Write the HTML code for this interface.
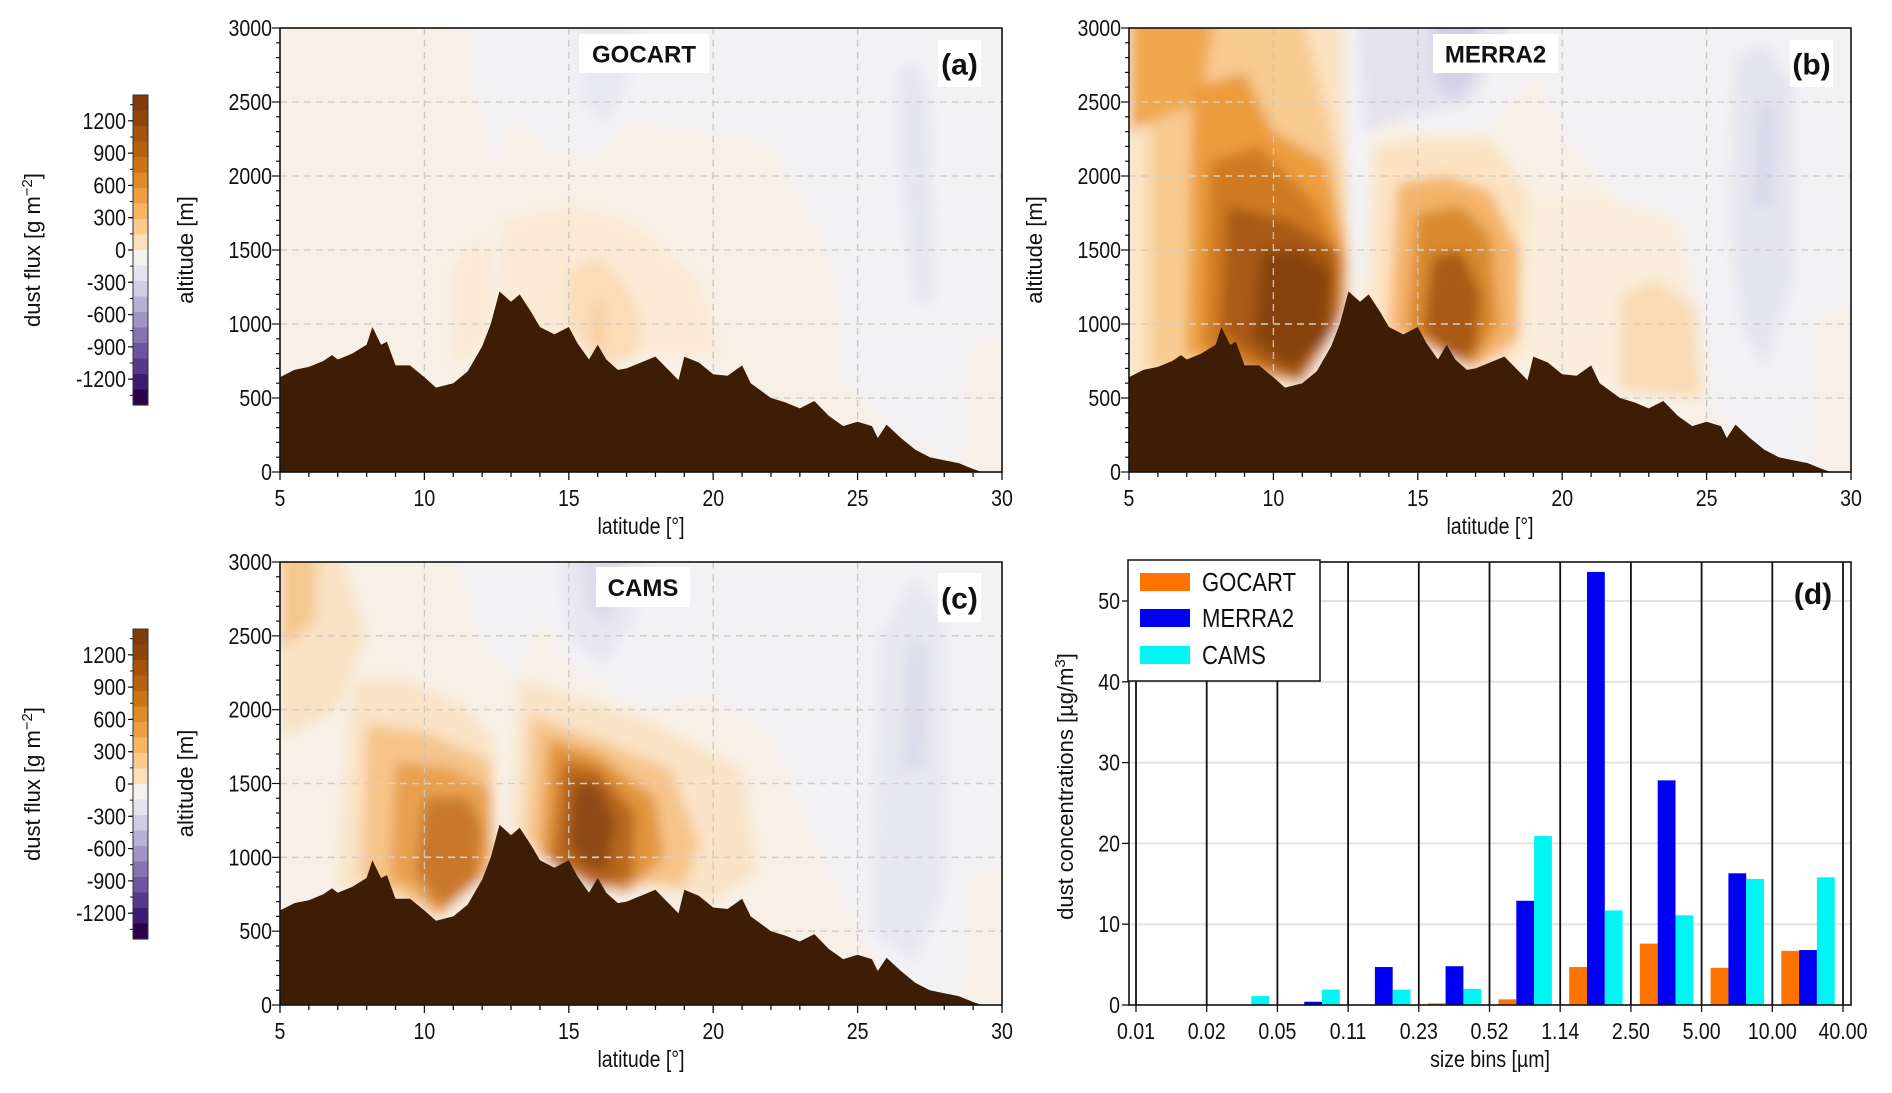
<!DOCTYPE html>
<html><head><meta charset="utf-8">
<style>
html,body{margin:0;padding:0;background:#fff;}
svg{display:block;}
text{font-family:"Liberation Sans",sans-serif;fill:#111;}
.t{font-size:22px;}
.b{font-family:"Liberation Sans",sans-serif;font-weight:bold;}
</style></head>
<body>
<svg id="fig" width="1892" height="1093" viewBox="0 0 1892 1093" xmlns="http://www.w3.org/2000/svg">
<defs>
<filter id="soft" x="-20%" y="-20%" width="140%" height="140%"><feGaussianBlur stdDeviation="6"/></filter>
</defs>
</svg>
<script>
// ---------- data ----------
const terrainLat = [5,5.5,6,6.5,6.8,7,7.5,8,8.2,8.5,8.7,9,9.5,10,10.4,11,11.5,12,12.3,12.6,13,13.3,13.7,14,14.5,15,15.3,15.7,16,16.3,16.7,17,17.5,18,18.5,18.8,19,19.5,20,20.5,21,21.3,22,22.5,23,23.5,24,24.5,25,25.5,25.7,26,26.5,27,27.5,28,28.5,29,29.3,30];
const terrainAlt = [640,690,710,750,790,760,800,860,980,860,880,720,720,640,570,600,680,850,1000,1220,1150,1200,1080,980,930,980,870,760,860,760,690,700,740,780,680,620,780,740,660,650,720,600,500,470,430,480,380,310,340,310,230,320,230,150,100,80,60,20,0,0];

const barBins = ["0.01","0.02","0.05","0.11","0.23","0.52","1.14","2.50","5.00","10.00","40.00"];
const gocartVals = [0,0,0,0,0.2,0.7,4.7,7.6,4.6,6.7];
const merraVals  = [0,0,0.4,4.7,4.8,12.9,53.6,27.8,16.3,6.8];
const camsVals   = [0,1.1,1.9,1.9,2.0,20.9,11.7,11.1,15.6,15.8];
const barYTicks = [0,10,20,30,40,50];
const cbTicks = [1200,900,600,300,0,-300,-600,-900,-1200];
const cbColors = ["#7f3b08","#8e4509","#a3530c","#b8610f","#cc7316","#df8a26","#ec9f42","#f6b665","#fbcb8e","#fde0bb","#f6f2ef","#e4e3ef","#cfcce4","#b8b1d6","#9f94c4","#8674b1","#6d559f","#57388b","#3f1a72","#2d004b"];
const latTicks = [5,10,15,20,25,30];
const altTicks = [0,500,1000,1500,2000,2500,3000];

const blobsA = [
 ["#f8f0e6",[[4,-100],[4,3100],[11.5,3100],[11.8,2500],[12.5,2050],[13,2380],[14.5,2150],[16,2100],[17,2350],[20,2300],[22,2200],[24,1500],[24.5,600],[26,300],[29,0],[29,-100]]],
 ["#f8f0e6",[[28.6,0],[28.7,700],[29.3,900],[30.5,900],[30.5,0]]],
 ["#fae9d4",[[11,700],[11,1400],[11.8,1550],[12.3,1500],[12.3,900]]],
 ["#fae9d4",[[12.6,1000],[12.7,1700],[14,1750],[15,1800],[17,1700],[18,1550],[19.5,1300],[20.2,800],[17,800],[15,900]]],
 ["#fadcb6",[[15,1000],[15,1350],[16,1450],[17,1250],[17.5,1000],[17.3,780],[16,700]]],
 ["#f5c58f",[[15.9,850],[15.9,1150],[16.1,1150],[16.2,850]]],
 ["#e8e8f1",[[15.2,3100],[15.5,2500],[16.2,2350],[17,2600],[17.5,3100]]],
 ["#e6e6f0",[[26.4,2700],[27,2780],[27.5,2500],[27.6,1150],[27,1150],[26.5,2000]]]
];
const blobsB = [
 ["#f8f0e6",[[4,-100],[4,3100],[12.4,3100],[12.6,1300],[13.2,1300],[13.5,2500],[15,2300],[17.5,2300],[19,2700],[20,2300],[22,1800],[25,500],[26,200],[29,-100]]],
 ["#f8f0e6",[[28.6,0],[28.8,1000],[29.5,1100],[30.5,1100],[30.5,0]]],
 ["#fbe3c3",[[5,600],[5,3100],[12.4,3100],[12.6,1200],[11,600]]],
 ["#f8cb92",[[5.7,700],[5.7,3100],[11,3100],[12.4,2000],[12.6,1200],[11,600]]],
 ["#f0a850",[[5,2300],[5,3100],[8,3100],[7.5,2500]]],
 ["#ec9c3e",[[7,800],[7.2,2600],[9,2700],[10,2300],[11.8,2100],[12.5,1500],[12.5,1100],[11,600],[9,700]]],
 ["#cf7a24",[[7.6,850],[7.8,2100],[9.5,2200],[11.5,1800],[12.4,1400],[12.3,1000],[11,600],[9,700]]],
 ["#a85a17",[[8.2,950],[8.4,1800],[10.5,1700],[12.2,1500],[12.2,1000],[10.8,620],[9.5,750]]],
 ["#874310",[[9.3,900],[9.6,1500],[11,1500],[12,1350],[11.8,900],[10.6,700]]],
 ["#fbe3c3",[[13.3,1000],[13.5,2200],[15,2250],[17.5,2250],[18.8,1900],[19.5,1000],[18,700]]],
 ["#f5b46a",[[14,950],[14.3,1950],[16,2000],[17.5,1900],[18.5,1500],[18.5,900],[17,700]]],
 ["#d98a2e",[[14.6,950],[15,1750],[16.5,1800],[17.5,1600],[17.8,1000],[16.8,700]]],
 ["#a85a15",[[15.2,950],[15.5,1450],[16.5,1500],[17.2,1200],[17,800],[16.2,760]]],
 ["#faeddb",[[18.5,700],[18.8,1850],[21,1900],[24,1700],[24.8,1000],[25,500],[21.5,600]]],
 ["#f9dcb5",[[22,550],[22,1200],[23.3,1300],[24.6,1100],[24.8,500]]],
 ["#e3e2ee",[[12.9,3100],[13.2,2300],[14.5,2400],[15.5,2450],[16.8,2500],[18,2900],[18.4,3100]]],
 ["#d2d0e5",[[15.5,3100],[15.6,2650],[16.3,2500],[17,2700],[17.2,3100]]],
 ["#e5e5f0",[[25.8,1700],[26,2800],[27,2900],[28,2600],[28,1300],[27,700],[26.2,1000]]],
 ["#d9d8ea",[[26.6,1800],[26.8,2500],[27.4,2500],[27.3,1800]]]
];
const blobsC = [
 ["#f8f0e6",[[4,-100],[4,3100],[11,3100],[12,2400],[13.2,2200],[14,2600],[15,2300],[17.5,2000],[20,2100],[22,1800],[24,900],[25,500],[26,200],[29,-100]]],
 ["#f8f0e6",[[28.6,0],[28.8,800],[29.5,900],[30.5,900],[30.5,0]]],
 ["#f9e2c4",[[5,1800],[5,3100],[7,3100],[8,2500],[7,2000]]],
 ["#f5c890",[[5,2400],[5,3100],[6.3,3100],[6.2,2600]]],
 ["#fae3c6",[[7,800],[7.5,2200],[9.5,2200],[11.5,2000],[12.4,1800],[12.5,1000],[10.5,570],[9,720]]],
 ["#f6c48a",[[7.8,850],[8,1900],[10,1850],[12.3,1650],[12.4,1000],[10.5,600],[9,750]]],
 ["#e8a050",[[8.8,850],[9,1650],[11,1600],[12.3,1450],[12.3,900],[10.5,600],[9.5,800]]],
 ["#c9782a",[[9.7,900],[10,1400],[11.5,1400],[12,1200],[11.8,850],[10.6,650]]],
 ["#fae3c6",[[13,1200],[13.3,2200],[15,2100],[18,1900],[21,1600],[21.5,900],[20,700],[15,900]]],
 ["#f6c48a",[[13.5,1100],[13.7,1950],[16,1800],[18.5,1600],[19.5,1100],[19,800],[15.5,850]]],
 ["#e3953c",[[14,1000],[14.3,1800],[16,1700],[18,1400],[18.3,1000],[17,750],[15.5,850]]],
 ["#b8661f",[[14.4,950],[14.8,1650],[16,1600],[17.3,1300],[17.2,850],[16,780]]],
 ["#8e4a14",[[15,1100],[15.2,1500],[16,1500],[16.6,1250],[16.3,900],[15.5,950]]],
 ["#e8e7f1",[[14.7,3100],[15,2500],[16.2,2300],[17.2,2600],[17.8,3100]]],
 ["#dcdbeb",[[15.4,3100],[15.6,2700],[16.3,2550],[16.8,2800],[17,3100]]],
 ["#e7e7f0",[[25.5,500],[25.8,2500],[27,2900],[28,2600],[28,800],[27,300]]],
 ["#dcdbeb",[[26.5,1600],[26.8,2500],[27.4,2400],[27.3,1600]]]
];

const NS = "http://www.w3.org/2000/svg";
const svg = document.getElementById('fig');
function mk(tag, attrs, parent){ const e=document.createElementNS(NS,tag); for(const k in attrs) e.setAttribute(k,attrs[k]); (parent||svg).appendChild(e); return e; }
function txt(s, attrs, parent){ const e=mk('text',attrs,parent); e.textContent=s; return e; }
// narrow text: horizontally condensed at anchor (x,y)
function ntxt(s, x, y, anchor, size, parent, rot){
  const tr='translate('+x+','+y+')'+(rot?' rotate(-90)':'')+' scale(0.85,1)';
  const e=mk('text',{x:0,y:0,'text-anchor':anchor,'font-size':size,transform:tr},parent);
  e.textContent=s; return e;
}

let clipId=0;
function panel(x0,y0,w,h,blobs,title,titleBox,tag,tagBox,showName){
  const X = lat => x0 + (lat-5)/25*w;
  const Y = alt => y0 + h - alt/3000*h;
  const g = mk('g',{});
  
  
  const cid='clip'+(clipId++);
  const cp=mk('clipPath',{id:cid},g); mk('rect',{x:x0,y:y0,width:w,height:h},cp);
  const inner=mk('g',{'clip-path':'url(#'+cid+')'},g);
  mk('rect',{x:x0,y:y0,width:w,height:h,fill:'#f2f1f4'},inner);
  const bg=mk('g',{filter:'url(#soft)'},inner);
  blobs.forEach(b=>{
    const p=mk('polygon',{points:b[1].map(q=>X(q[0]).toFixed(1)+','+Y(q[1]).toFixed(1)).join(' '),fill:b[0]},bg);
    
    
  });
  [10,15,20,25].forEach(l=>mk('line',{x1:X(l),x2:X(l),y1:y0,y2:y0+h,stroke:'#c9c6c2','stroke-width':1.3,'stroke-dasharray':'7,5'},inner));
  [500,1000,1500,2000,2500].forEach(a=>mk('line',{x1:x0,x2:x0+w,y1:Y(a),y2:Y(a),stroke:'#d3cfca','stroke-width':1.6,'stroke-dasharray':'7,5'},inner));
  let pts=terrainLat.map((l,i)=>X(l).toFixed(1)+','+Y(terrainAlt[i]).toFixed(1));
  pts.push(X(30)+','+Y(0)); pts.push(X(5)+','+Y(0));
  const ter=mk('polygon',{points:pts.join(' '),fill:'#3d1d06'},inner);
  
  
  mk('rect',{x:x0,y:y0,width:w,height:h,fill:'none',stroke:'#111','stroke-width':1.6},g);
  for(let l=5;l<=30;l++){ const maj=(l%5===0); mk('line',{x1:X(l),x2:X(l),y1:y0+h,y2:y0+h+(maj?8:5),stroke:'#111','stroke-width':1.3},g);}
  latTicks.forEach(l=>ntxt(String(l),X(l),y0+h+34,'middle',23,g));
  for(let a=0;a<=3000;a+=100){ const maj=(a%500===0); mk('line',{x1:x0,x2:x0-(maj?8:4),y1:Y(a),y2:Y(a),stroke:'#111','stroke-width':1.2},g);}
  altTicks.forEach(a=>ntxt(String(a),x0-8,Y(a)+8,'end',23,g));
  const xl=ntxt('latitude [°]',x0+w/2,y0+h+62,'middle',23,g);
   
  const yl=mk('text',{x:0,y:0,'text-anchor':'middle','font-size':22,transform:'translate('+(x0-87)+','+(y0+h/2)+') rotate(-90)'},g);
  yl.textContent='altitude [m]';
   
  mk('rect',{x:titleBox[0],y:titleBox[1],width:titleBox[2],height:titleBox[3],fill:'#fff'},g);
  const tt=txt(title,{x:titleBox[0]+titleBox[2]/2,y:titleBox[1]+titleBox[3]/2+9,'text-anchor':'middle',class:'b','font-size':'24'},g);
   
  mk('rect',{x:tagBox[0],y:tagBox[1],width:tagBox[2],height:tagBox[3],fill:'#fff'},g);
  const tg=txt(tag,{x:tagBox[0]+tagBox[2]/2,y:tagBox[1]+tagBox[3]/2+11,'text-anchor':'middle',class:'b','font-size':'30'},g);
   
}

function colorbar(x0,y0,h){
  const g=mk('g',{});
  
  
  const vmax=1440, vmin=-1440;
  const V = v => y0 + (vmax-v)/(vmax-vmin)*h;
  const n=cbColors.length;
  cbColors.forEach((c,i)=>mk('rect',{x:x0,y:y0+i*h/n,width:15,height:h/n+0.6,fill:c},g));
  mk('rect',{x:x0,y:y0,width:15,height:h,fill:'none',stroke:'#333','stroke-width':1},g);
  cbTicks.forEach(v=>{ mk('line',{x1:x0,x2:x0-5,y1:V(v),y2:V(v),stroke:'#111','stroke-width':1.2},g);
    ntxt(String(v),x0-7,V(v)+8,'end',23,g);});
  for(let v=-1350;v<=1350;v+=150){ mk('line',{x1:x0,x2:x0-3,y1:V(v),y2:V(v),stroke:'#111','stroke-width':1},g);}
  const t=mk('text',{x:0,y:0,'text-anchor':'middle','font-size':22,transform:'translate(40,'+(y0+h/2)+') rotate(-90)'},g);
  t.innerHTML='dust flux [g m<tspan dy="-8" font-size="15">−2</tspan><tspan dy="8">]</tspan>';
   
}

colorbar(133,95,310);
colorbar(133,629,310);
panel(280,28,722,444,blobsA,'GOCART',[579,34,130,39],'(a)',[938,40,43,47],'gocart');
panel(1129,28,722,444,blobsB,'MERRA2',[1433,34,125,39],'(b)',[1790,40,43,47],'merra2');
panel(280,562,722,443,blobsC,'CAMS',[596,567,94,40],'(c)',[938,573,43,49],'cams');

// ---------- bar panel ----------
(function(){
  const x0=1129,y0=562,w=722,h=443;
  const g=mk('g',{});
  
  
  const bx0=1136, bw=70.7;
  const B = i => bx0 + i*bw;
  const Y = v => y0 + h - v*8.08;
  mk('rect',{x:x0,y:y0,width:w,height:h,fill:'#fff'},g);
  barYTicks.forEach(v=>{ if(v>0) mk('line',{x1:x0,x2:x0+w,y1:Y(v),y2:Y(v),stroke:'#e3e3e3','stroke-width':2},g);});
  const series=[[gocartVals,'#ff7300','gocart'],[merraVals,'#0000f5','merra2'],[camsVals,'#00f5f5','cams']];
  series.forEach((s,j)=>{
    s[0].forEach((v,i)=>{
      const r=mk('rect',{x:B(i)+9+j*17.8,y:Y(v),width:17.8,height:Y(0)-Y(v),fill:s[1]},g);
      
      
    });
  });
  barBins.forEach((b,i)=>{ mk('line',{x1:B(i),x2:B(i),y1:y0,y2:y0+h,stroke:'#111','stroke-width':1.8},g);
    ntxt(b,B(i),y0+h+34,'middle',23,g);
    mk('line',{x1:B(i),x2:B(i),y1:y0+h,y2:y0+h+7,stroke:'#111','stroke-width':1.3},g);});
  barYTicks.forEach(v=>{ mk('line',{x1:x0,x2:x0-7,y1:Y(v),y2:Y(v),stroke:'#111','stroke-width':1.3},g);
    ntxt(String(v),x0-9,Y(v)+8,'end',23,g);});
  mk('rect',{x:x0,y:y0,width:w,height:h,fill:'none',stroke:'#111','stroke-width':1.6},g);
  const xl=ntxt('size bins [µm]',x0+w/2,y0+h+62,'middle',23,g);
   
  const yl=mk('text',{x:0,y:0,'text-anchor':'middle','font-size':22,transform:'translate(1073,'+(y0+h/2+3)+') rotate(-90)'},g);
  yl.innerHTML='dust concentrations [µg/m<tspan dy="-8" font-size="15">3</tspan><tspan dy="8">]</tspan>';
   
  const lg=mk('g',{},g);
  
  
  mk('rect',{x:1128,y:560,width:192,height:121,fill:'#fff',stroke:'#111','stroke-width':1.5},lg);
  [['GOCART','#ff7300',573],['MERRA2','#0000f5',609],['CAMS','#00f5f5',646]].forEach(e=>{
    const sw=mk('rect',{x:1140,y:e[2],width:50,height:18,fill:e[1]},lg);
     
    const t=ntxt(e[0],1202,e[2]+18,'start',26,lg);
     
  });
  const tg=txt('(d)',{x:1813,y:604,'text-anchor':'middle',class:'b','font-size':'30'},g);
   
})();
</script>
</body></html>
